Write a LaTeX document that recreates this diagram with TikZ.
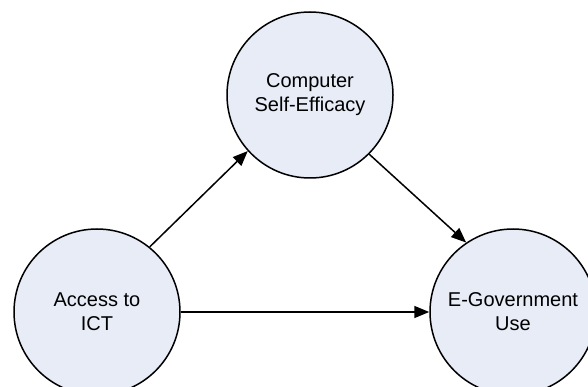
\documentclass[tikz,border=0pt]{standalone}
\usepackage{fontspec}
\setmainfont{Liberation Sans}
\usetikzlibrary{arrows.meta}
\definecolor{circfill}{RGB}{231,236,247}
\begin{document}
\begin{tikzpicture}[x=1pt,y=-1pt,
  concept/.style={circle,draw=black,line width=1.5pt,fill=circfill,minimum size=166pt,inner sep=0pt,align=center,font=\fontsize{20}{24}\selectfont},
  link/.style={line width=1.5pt,-{Triangle[length=15pt,width=12pt]}}]
\useasboundingbox (0,0) rectangle (588,387);
\node[concept] (cse) at (310,95) {Computer\\Self-Efficacy};
\node[concept] (ict) at (97,312) {Access to\\ICT};
\node[concept] (egov) at (513,312) {E-Government\\Use};
\draw[link] (ict.51) -- (cse.222);
\draw[link] (cse.-45) -- (egov.124);
\draw[link] (ict.east) -- (egov.west);
\end{tikzpicture}
\end{document}
